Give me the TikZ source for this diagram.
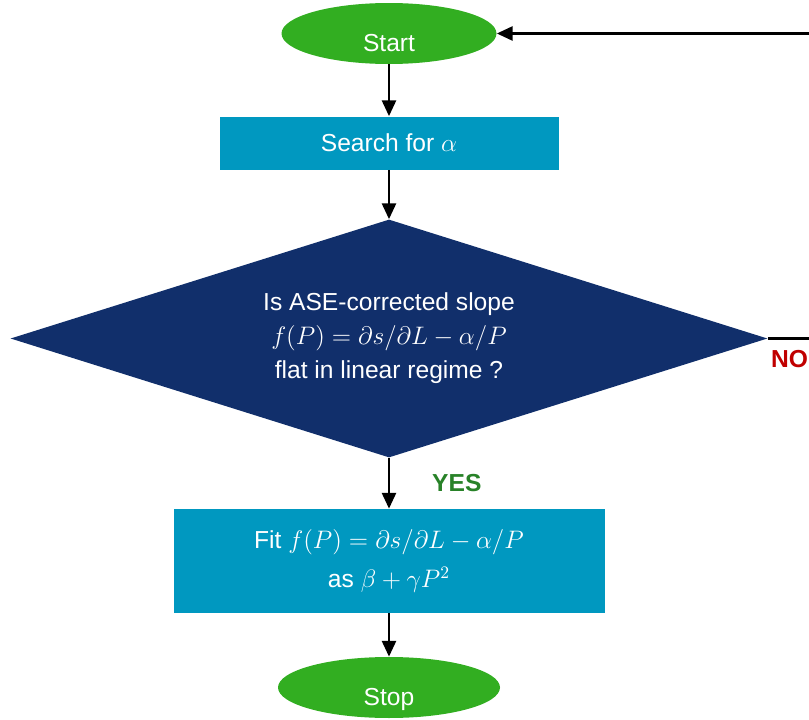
\documentclass[tikz,border=0pt]{standalone}
\usepackage{amsmath,amssymb}
\usepackage{fontspec}
\setmainfont{Liberation Sans}
\usepackage{xcolor}
\usepackage{tikz}
\usetikzlibrary{arrows.meta,shapes.geometric,positioning}
\definecolor{termgreen}{RGB}{50,174,33}
\definecolor{boxteal}{RGB}{0,152,192}
\definecolor{decidenavy}{RGB}{17,47,107}
\definecolor{yesgreen}{RGB}{40,130,40}
\definecolor{nored}{RGB}{192,0,0}

\begin{document}
\begin{tikzpicture}[
  font=\fontsize{14}{17}\selectfont,
  terminal/.style={ellipse,fill=termgreen,text=white,minimum width=#1,minimum height=1.22cm,inner sep=0pt,text height=0.71cm,text depth=0pt},
  process/.style={rectangle,fill=boxteal,text=white,align=center,inner sep=0pt},
  decision/.style={diamond,fill=decidenavy,text=white,align=center,inner sep=0pt,shape aspect=3.2,minimum width=15.14cm,minimum height=4.76cm,font=\fontsize{14}{19.3}\selectfont},
  flow/.style={-{Triangle[width=8pt,length=9pt]},line width=1.4pt},
  answer/.style={font=\fontsize{14}{17}\selectfont\bfseries,inner sep=0pt}
]
  \useasboundingbox (0,0) rectangle (16.18,-14.4);
  \node[terminal=4.3cm] (start) at (7.78,-0.67) {Start};
  \node[process,minimum width=6.78cm,minimum height=1.06cm] (search) at (7.78,-2.86) {Search for $\alpha$};
  \node[decision] (check) at (7.78,-6.77) {Is ASE-corrected slope\\ $f(P)=\partial s/\partial L-\alpha/P$\\ flat in linear regime ?};
  \node[process,minimum width=8.62cm,minimum height=2.08cm,font=\fontsize{14}{22.7}\selectfont] (fit) at (7.78,-11.22) {Fit $f(P)=\partial s/\partial L-\alpha/P$\\ as $\beta+\gamma P^2$};
  \node[terminal=4.44cm] (stop) at (7.78,-13.75) {Stop};
  \coordinate (back) at (17,-6.77);
  \draw[flow] (start) -- (search);
  \draw[flow] (search) -- (check);
  \draw[flow] (check) -- (fit) node[midway,right=0.84cm,answer,text=yesgreen] {YES};
  \draw[flow] (fit) -- (stop);
  \draw[flow] (check.east) -- (back) node[pos=0,below right=0.22cm and 0.04cm,answer,text=nored] {NO} |- (start.east);
\end{tikzpicture}
\end{document}
